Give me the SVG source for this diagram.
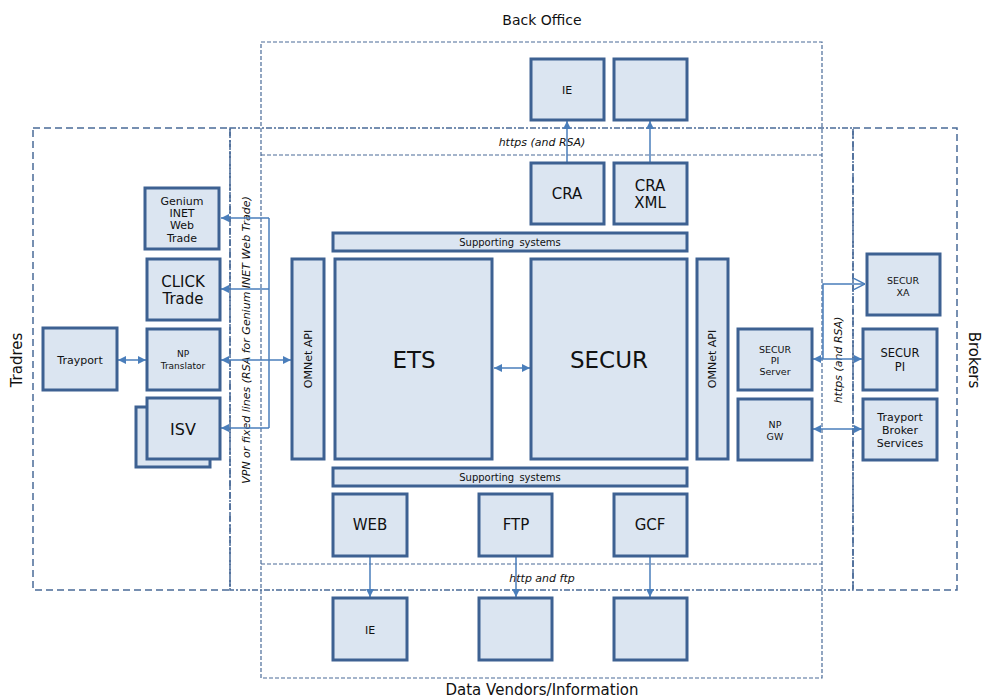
<svg xmlns="http://www.w3.org/2000/svg" width="984" height="698" viewBox="0 0 984 698">
<style>
.bx{fill:#dbe5f1;stroke:#3d6192;stroke-width:3}
.t{font-family:"DejaVu Sans","Liberation Sans",sans-serif;fill:#111;text-anchor:middle;dominant-baseline:central}
.it{font-style:italic}
.dash{fill:none;stroke:#4a6b98;stroke-width:1.5;stroke-dasharray:7 4}
.dd{fill:none;stroke:#4a6b98;stroke-width:1.5;stroke-dasharray:6 2 2 2}
.dot{fill:none;stroke:#4a6b98;stroke-width:1.2;stroke-dasharray:4 2}
.c{fill:none;stroke:#4a7ebb;stroke-width:1.5}
</style>
<defs>
<marker id="a" viewBox="0 0 10 10" refX="10" refY="5" markerWidth="9" markerHeight="8" markerUnits="userSpaceOnUse" orient="auto-start-reverse"><path d="M0,0L10,5L0,10z" fill="#4a7ebb"/></marker>
<marker id="o" viewBox="0 0 10 10" refX="10" refY="5" markerWidth="12" markerHeight="12" markerUnits="userSpaceOnUse" orient="auto"><path d="M0,0L10,5L0,10" fill="none" stroke="#4a7ebb" stroke-width="1.2"/></marker>
</defs>
<g id="regions">
<rect class="dash" x="33" y="128" width="197" height="462"/>
<rect class="dash" x="853" y="128" width="104" height="462"/>
<rect class="dd" x="230" y="128" width="623" height="462"/>
<rect class="dot" x="261" y="42" width="561" height="636"/>
<line class="dot" x1="261" y1="155" x2="822" y2="155"/>
<line class="dot" x1="261" y1="564" x2="822" y2="564"/>
<text class="t" x="542" y="20" font-size="14">Back Office</text>
<text class="t it" x="542" y="142" font-size="11">https (and RSA)</text>
<text class="t it" x="542" y="578" font-size="11">http and ftp</text>
<text class="t" x="542" y="690" font-size="15">Data Vendors/Information</text>
<text class="t" font-size="15" transform="translate(17,360) rotate(-90)">Tradres</text>
<text class="t" font-size="15" text-anchor="middle" dominant-baseline="alphabetic" transform="translate(974,360) rotate(90)">Brokers</text>
<text class="t it" font-size="11" transform="translate(246,340) rotate(-90)">VPN or fixed lines (RSA for Genium INET Web Trade)</text>
<text class="t it" font-size="11" transform="translate(838,360) rotate(-90)">https (and RSA)</text>
</g>
<g id="connectors">
<path class="c" d="M269,218V428"/>
<path class="c" d="M269,218H221" marker-end="url(#a)"/>
<path class="c" d="M269,289H221" marker-end="url(#a)"/>
<path class="c" d="M269,428H221" marker-end="url(#a)"/>
<path class="c" d="M221,360H291" marker-start="url(#a)" marker-end="url(#a)"/>
<path class="c" d="M118,360H146" marker-start="url(#a)" marker-end="url(#a)"/>
<path class="c" d="M494,368H530" marker-start="url(#a)" marker-end="url(#a)"/>
<path class="c" d="M567,163V121" marker-end="url(#a)"/>
<path class="c" d="M650,163V121" marker-end="url(#a)"/>
<path class="c" d="M370,556V597" marker-end="url(#a)"/>
<path class="c" d="M516,556V597" marker-end="url(#a)"/>
<path class="c" d="M650,556V597" marker-end="url(#a)"/>
<path class="c" d="M823,359V284H865" marker-end="url(#o)"/>
<path class="c" d="M813,359H862" marker-start="url(#a)" marker-end="url(#a)"/>
<path class="c" d="M813,429H862" marker-start="url(#a)" marker-end="url(#a)"/>
</g>
<g id="genium"><rect class="bx" x="145" y="188" width="74" height="61"/>
<text class="t" x="182" y="201" font-size="11">Genium</text><text class="t" x="182" y="213" font-size="11">INET</text><text class="t" x="182" y="225" font-size="11">Web</text><text class="t" x="182" y="238" font-size="11">Trade</text></g>
<g id="click"><rect class="bx" x="147" y="259" width="73" height="61"/>
<text class="t" x="183" y="282" font-size="15">CLICK</text><text class="t" x="183" y="299" font-size="15">Trade</text></g>
<g id="nptrans"><rect class="bx" x="147" y="329" width="73" height="61"/>
<text class="t" x="183" y="354" font-size="9">NP</text><text class="t" x="183" y="366" font-size="9">Translator</text></g>
<g id="isv"><rect class="bx" x="136" y="407" width="74" height="60"/><rect class="bx" x="147" y="398" width="73" height="61"/>
<text class="t" x="183" y="429" font-size="16">ISV</text></g>
<g id="trayport"><rect class="bx" x="43" y="328" width="74" height="62"/>
<text class="t" x="80" y="360" font-size="11">Trayport</text></g>
<g id="ie-top"><rect class="bx" x="531" y="59" width="73" height="61"/><text class="t" x="567" y="90" font-size="11">IE</text></g>
<g id="bo2"><rect class="bx" x="614" y="59" width="73" height="61"/></g>
<g id="cra"><rect class="bx" x="531" y="163" width="73" height="61"/><text class="t" x="567" y="194" font-size="15">CRA</text></g>
<g id="craxml"><rect class="bx" x="614" y="163" width="73" height="61"/><text class="t" x="650" y="186" font-size="15">CRA</text><text class="t" x="650" y="203" font-size="15">XML</text></g>
<g id="sup-top"><rect class="bx" x="333" y="233" width="354" height="18" stroke-width="2.5"/><text class="t" x="510" y="242" font-size="10" word-spacing="2">Supporting systems</text></g>
<g id="omnet-l"><rect class="bx" x="292" y="259" width="32" height="200"/><text class="t" font-size="11" transform="translate(308,359) rotate(-90)">OMNet API</text></g>
<g id="ets"><rect class="bx" x="335" y="259" width="157" height="200"/><text class="t" x="414" y="360" font-size="23">ETS</text></g>
<g id="secur"><rect class="bx" x="531" y="259" width="156" height="200"/><text class="t" x="609" y="360" font-size="23">SECUR</text></g>
<g id="omnet-r"><rect class="bx" x="697" y="259" width="31" height="200"/><text class="t" font-size="11" transform="translate(712,359) rotate(-90)">OMNet API</text></g>
<g id="sup-bot"><rect class="bx" x="333" y="468" width="354" height="18" stroke-width="2.5"/><text class="t" x="510" y="477" font-size="10" word-spacing="2">Supporting systems</text></g>
<g id="web"><rect class="bx" x="333" y="494" width="74" height="62"/><text class="t" x="370" y="525" font-size="15">WEB</text></g>
<g id="ftp"><rect class="bx" x="479" y="494" width="73" height="62"/><text class="t" x="516" y="525" font-size="15">FTP</text></g>
<g id="gcf"><rect class="bx" x="614" y="494" width="73" height="62"/><text class="t" x="650" y="525" font-size="15">GCF</text></g>
<g id="ie-bot"><rect class="bx" x="333" y="598" width="74" height="62"/><text class="t" x="370" y="630" font-size="11">IE</text></g>
<g id="dv2"><rect class="bx" x="479" y="598" width="73" height="62"/></g>
<g id="dv3"><rect class="bx" x="614" y="598" width="73" height="62"/></g>
<g id="securxa"><rect class="bx" x="867" y="254" width="73" height="61"/><text class="t" x="903" y="280" font-size="9.5">SECUR</text><text class="t" x="903" y="292" font-size="9.5">XA</text></g>
<g id="securpiserver"><rect class="bx" x="738" y="329" width="74" height="61"/><text class="t" x="775" y="349" font-size="9.5">SECUR</text><text class="t" x="775" y="360" font-size="9.5">PI</text><text class="t" x="775" y="371" font-size="9.5">Server</text></g>
<g id="securpi"><rect class="bx" x="863" y="329" width="74" height="61"/><text class="t" x="900" y="353" font-size="11.5">SECUR</text><text class="t" x="900" y="367" font-size="11.5">PI</text></g>
<g id="npgw"><rect class="bx" x="738" y="399" width="74" height="61"/><text class="t" x="775" y="424" font-size="9.5">NP</text><text class="t" x="775" y="436" font-size="9.5">GW</text></g>
<g id="tbs"><rect class="bx" x="863" y="399" width="74" height="61"/><text class="t" x="900" y="417" font-size="11">Trayport</text><text class="t" x="900" y="430" font-size="11">Broker</text><text class="t" x="900" y="443" font-size="11">Services</text></g>
</svg>
